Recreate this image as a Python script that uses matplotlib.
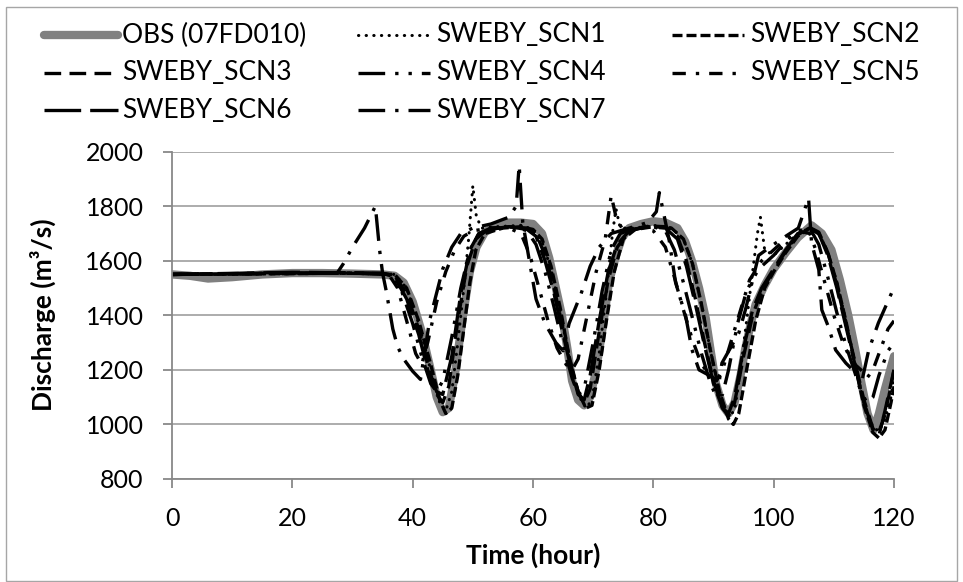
import matplotlib.pyplot as plt
from matplotlib.lines import Line2D
from matplotlib.patches import Rectangle

plt.rcParams['font.family'] = ['Lato', 'DejaVu Sans']

# (hour, discharge m3/s)
obs = [(0, 1550), (3, 1545), (6, 1535), (10, 1540), (15, 1550), (20, 1555), (25, 1555), (30, 1553),
       (35, 1550), (37, 1545), (38.5, 1520), (40, 1450), (41.5, 1340), (43, 1200), (44, 1100), (45, 1045),
       (46, 1060), (47, 1180), (48.3, 1390), (49.5, 1560), (50.6, 1650), (52, 1705), (54, 1730), (56, 1740),
       (58, 1740), (60, 1735), (61.5, 1700), (62.7, 1610), (63.8, 1500), (64.8, 1400), (65.7, 1280),
       (66.5, 1160), (67.5, 1090), (68.5, 1070), (69.5, 1100), (70.3, 1180), (71, 1270), (72, 1420),
       (72.6, 1520), (73.8, 1620), (74.8, 1685), (76, 1720), (78, 1735), (80, 1745), (82, 1740), (84, 1720),
       (85.3, 1670), (86.4, 1600), (87.6, 1500), (88.7, 1390), (89.6, 1260), (90.4, 1150), (91.5, 1070),
       (92.5, 1040), (93.5, 1080), (94.5, 1180), (95.3, 1280), (96.2, 1370), (97, 1440), (98.5, 1510),
       (100, 1570), (102, 1630), (104, 1685), (106.3, 1730), (108, 1700), (109.6, 1640), (111, 1530),
       (112.4, 1400), (113.5, 1280), (114.6, 1150), (115.6, 1040), (116.6, 980), (117.5, 1040),
       (118.5, 1130), (120, 1250)]

scn1 = [(0, 1550), (30, 1555), (37, 1550), (39, 1500), (41, 1370), (43, 1200), (44.5, 1080), (45.5, 1050),
        (46.5, 1120), (47.5, 1300), (48.5, 1500), (49.3, 1680), (50, 1875), (50.6, 1760), (51.5, 1720),
        (54, 1725), (58, 1730), (60, 1715), (61.5, 1670), (63, 1570), (64.5, 1420), (66, 1240), (67.5, 1110),
        (68.8, 1060), (69.8, 1090), (71, 1260), (72.2, 1480), (73.2, 1700), (73.8, 1790), (74.5, 1720),
        (77, 1720), (80, 1730), (83, 1720), (85, 1680), (86.5, 1590), (88, 1440), (89.5, 1270), (91, 1110),
        (92.5, 1030), (93.5, 1050), (94.5, 1200), (95.5, 1380), (96.5, 1560), (97.3, 1700), (97.8, 1760),
        (98.5, 1640), (100, 1620), (102, 1660), (104, 1700), (106, 1720), (107.5, 1700), (109, 1630),
        (110.5, 1520), (112, 1380), (113.5, 1220), (115, 1080), (116.5, 990), (117.5, 975), (118.5, 1020),
        (119.5, 1100), (120, 1180)]

scn2 = [(0, 1550), (30, 1555), (37, 1550), (39, 1500), (41, 1380), (43, 1220), (44.5, 1090), (45.5, 1040),
        (46.5, 1060), (47.5, 1180), (48.5, 1350), (49.5, 1520), (50.5, 1640), (52, 1700), (55, 1720),
        (58, 1725), (60, 1715), (61.5, 1680), (63, 1580), (64.5, 1430), (66, 1250), (67.5, 1120), (68.8, 1060),
        (69.8, 1070), (71, 1200), (72.2, 1380), (73.5, 1560), (75, 1680), (77, 1715), (80, 1725), (83, 1720),
        (85, 1680), (86.5, 1590), (88, 1440), (89.5, 1270), (91, 1120), (92.5, 1020), (93.3, 1000),
        (94.2, 1040), (95.5, 1200), (97, 1380), (98.5, 1500), (100, 1560), (102, 1630), (104, 1690),
        (106, 1720), (107.5, 1700), (109, 1630), (110.5, 1520), (112, 1380), (113.5, 1220), (115, 1070),
        (116.5, 970), (117.5, 950), (118.5, 980), (119.5, 1080), (120, 1140)]

scn3 = [(0, 1550), (20, 1556), (35, 1553), (37, 1545), (39, 1480), (41, 1350), (42.5, 1220), (44, 1110),
        (45, 1080), (46, 1140), (47.5, 1380), (49, 1580), (50.5, 1680), (52.5, 1715), (56, 1725), (59, 1720),
        (60.5, 1700), (62, 1620), (63.5, 1500), (65, 1350), (66.5, 1200), (67.5, 1120), (68.5, 1080),
        (69.5, 1130), (71, 1340), (72.5, 1530), (74, 1650), (76, 1710), (79, 1728), (82, 1725), (84, 1690),
        (85.5, 1600), (87, 1460), (88.5, 1300), (90, 1160), (91.5, 1060), (92.5, 1030), (93.5, 1080),
        (95, 1250), (96.5, 1400), (98, 1490), (100, 1565), (102, 1635), (104, 1695), (106, 1722),
        (107.5, 1705), (109, 1630), (110.5, 1510), (112, 1370), (113.5, 1230), (115, 1090), (116.5, 985),
        (117.3, 965), (118.3, 1020), (119.3, 1120), (120, 1200)]

scn4 = [(0, 1550), (30, 1555), (36.5, 1550), (38, 1500), (40, 1370), (41.5, 1250), (43, 1150), (44, 1120),
        (45, 1160), (46.5, 1320), (48, 1500), (49.5, 1640), (51, 1700), (54, 1720), (57, 1725), (59, 1710),
        (60.5, 1660), (62, 1560), (63.5, 1430), (65, 1290), (66.5, 1170), (67.5, 1110), (68.5, 1130),
        (70, 1300), (71.5, 1490), (73, 1640), (74.5, 1700), (77, 1720), (80, 1725), (82, 1710), (83.5, 1640),
        (85, 1520), (86.5, 1390), (88, 1260), (89.5, 1150), (90.5, 1100), (91.5, 1110), (92.5, 1200),
        (94, 1370), (95.5, 1490), (97.5, 1570), (100, 1620), (102, 1670), (104, 1710), (106, 1720),
        (107.5, 1660), (109, 1540), (110.5, 1410), (112, 1290), (113.5, 1190), (114.5, 1120), (115.5, 1080),
        (116.5, 1100), (117.5, 1180), (119, 1270), (120, 1300)]

scn5 = [(0, 1550), (30, 1555), (36, 1550), (37.5, 1500), (39, 1380), (40.5, 1260), (41.5, 1220),
        (42.5, 1300), (44, 1450), (45.5, 1560), (47, 1640), (48.5, 1690), (50, 1710), (53, 1720), (56, 1720),
        (58, 1700), (59.5, 1620), (61, 1500), (62.5, 1380), (64, 1280), (65.5, 1220), (66.5, 1200),
        (67.5, 1240), (69, 1400), (70.5, 1560), (72, 1680), (73, 1840), (73.8, 1760), (75, 1710), (78, 1720),
        (80, 1710), (82, 1650), (83.5, 1540), (85, 1420), (86.5, 1310), (88, 1220), (89.5, 1180),
        (90.5, 1160), (91.5, 1200), (93, 1310), (94.5, 1420), (96, 1530), (98, 1600), (100, 1640),
        (102, 1680), (104, 1710), (106, 1700), (107, 1640), (108.5, 1520), (110, 1400), (111.5, 1300),
        (113, 1230), (114.5, 1200), (115.5, 1170), (116.5, 1200), (118, 1290), (119, 1350), (120, 1380)]

scn6 = [(0, 1550), (20, 1558), (35, 1555), (37, 1540), (39, 1460), (41, 1330), (42.5, 1200), (44, 1120),
        (45, 1110), (46.5, 1250), (48, 1480), (49.5, 1640), (51, 1700), (53, 1720), (56, 1725), (59, 1715),
        (60.5, 1690), (62, 1600), (63.5, 1480), (65, 1330), (66.5, 1190), (67.5, 1110), (68.5, 1090),
        (69.5, 1180), (71, 1380), (72.5, 1560), (74, 1660), (76, 1710), (79, 1725), (82, 1720), (84, 1680),
        (85.5, 1580), (87, 1440), (88.5, 1290), (90, 1150), (91.5, 1060), (92.5, 1040), (93.5, 1100),
        (95, 1280), (96.5, 1420), (98, 1500), (100, 1570), (102, 1640), (104, 1700), (106, 1720),
        (107.5, 1700), (109, 1620), (110.5, 1500), (112, 1360), (113.5, 1220), (115, 1080), (116.5, 980),
        (117.5, 960), (118.5, 1050), (120, 1200)]

scn7 = [(0, 1550), (20, 1555), (27.5, 1557), (28.5, 1590), (30, 1650), (32, 1720), (33.8, 1800),
        (34.5, 1640), (35, 1555), (35.6, 1490), (36.7, 1350), (37.5, 1285), (38.5, 1240), (40, 1195),
        (41.3, 1165), (42.8, 1380), (45, 1570), (46.5, 1650), (48, 1700), (50, 1720), (53, 1735), (56, 1760),
        (57.2, 1800), (57.7, 1950), (58.3, 1740), (60.5, 1460), (62, 1370), (63.8, 1300), (65, 1270),
        (66, 1370), (68, 1480), (69.5, 1580), (71, 1650), (73, 1700), (76, 1720), (79, 1740), (80.5, 1780),
        (81, 1850), (82.6, 1680), (83.7, 1520), (85.4, 1395), (86.4, 1275), (87.6, 1200), (89.7, 1175),
        (90.9, 1150), (91.4, 1225), (94.2, 1335), (95.3, 1420), (97.5, 1620), (100, 1660), (102, 1690),
        (104.1, 1720), (105.8, 1830), (106.3, 1665), (107.5, 1567), (108, 1420), (109.1, 1358),
        (110.3, 1273), (112, 1225), (113.6, 1190), (114.6, 1152), (115.8, 1273), (117.4, 1372),
        (119.6, 1482), (120, 1485)]

y_ticks = [800, 1000, 1200, 1400, 1600, 1800, 2000]
x_ticks = [0, 20, 40, 60, 80, 100, 120]

# name, data, line style
series = [
    ('OBS (07FD010)', obs, dict(color='#808080', lw=6, solid_capstyle='round', zorder=2)),
    ('SWEBY_SCN1', scn1, dict(color='black', lw=2.2, ls=(0, (0.1, 2.4)), dash_capstyle='round')),
    ('SWEBY_SCN2', scn2, dict(color='black', lw=2.4, ls=(0, (3, 1.2)))),
    ('SWEBY_SCN3', scn3, dict(color='black', lw=2.4, ls=(0, (5, 2.5)))),
    ('SWEBY_SCN4', scn4, dict(color='black', lw=2.4, ls=(0, (8, 3, 1, 3, 1, 3)))),
    ('SWEBY_SCN5', scn5, dict(color='black', lw=2.4, ls=(0, (4, 3, 1, 3)))),
    ('SWEBY_SCN6', scn6, dict(color='black', lw=2.4, ls=(0, (11, 2.7)))),
    ('SWEBY_SCN7', scn7, dict(color='black', lw=2.4, ls=(0, (8, 3, 1, 3)))),
]

W, H = 963, 582
fig = plt.figure(figsize=(W / 100, H / 100), dpi=100)
ax = fig.add_axes([172 / W, 1 - 479 / H, (894 - 172) / W, (479 - 151.7) / H])

for name, pts, style in series:
    t, q = zip(*pts)
    ax.plot(t, q, label=name, **style)

ax.set_xlim(0, 120)
ax.set_ylim(800, 2000)
ax.set_xticks(x_ticks)
ax.set_yticks(y_ticks)
ax.grid(axis='y', color='#a6a6a6', lw=1.3)
ax.set_axisbelow(True)
for s in ['top', 'right']:
    ax.spines[s].set_visible(False)
for s in ['left', 'bottom']:
    ax.spines[s].set_color('#888888')
    ax.spines[s].set_linewidth(1.3)
ax.tick_params(direction='out', length=6.5, width=1.3, color='#888888', pad=14, labelsize=18)

fig.text(43 / W, 1 - 315 / H, 'Discharge (m³/s)', rotation=90, ha='center', va='center',
         fontsize=19, fontweight='bold')
fig.text(533 / W, 1 - 555 / H, 'Time (hour)', ha='center', va='center', fontsize=19, fontweight='bold')

# legend laid out like the spreadsheet one: 3 columns, row by row
rows_y = [35, 73, 110]
cols = [(44, 118, 122), (358, 430, 436), (672, 744, 750)]
for i, (name, pts, style) in enumerate(series):
    r, c = divmod(i, 3)
    x0, x1, xt = cols[c]
    y = 1 - rows_y[r] / H
    st = dict(style)
    st.pop('zorder', None)
    fig.add_artist(Line2D([x0 / W, x1 / W], [y, y], transform=fig.transFigure, **st))
    fig.text(xt / W, y, name, ha='left', va='center', fontsize=19)

# thin chart-area border
fig.add_artist(Rectangle((6 / W, 1 / H), (957 - 6) / W, (581 - 7) / H, transform=fig.transFigure,
                         fill=False, edgecolor='#a6a6a6', lw=1))

fig.savefig('out.png', dpi=100)
